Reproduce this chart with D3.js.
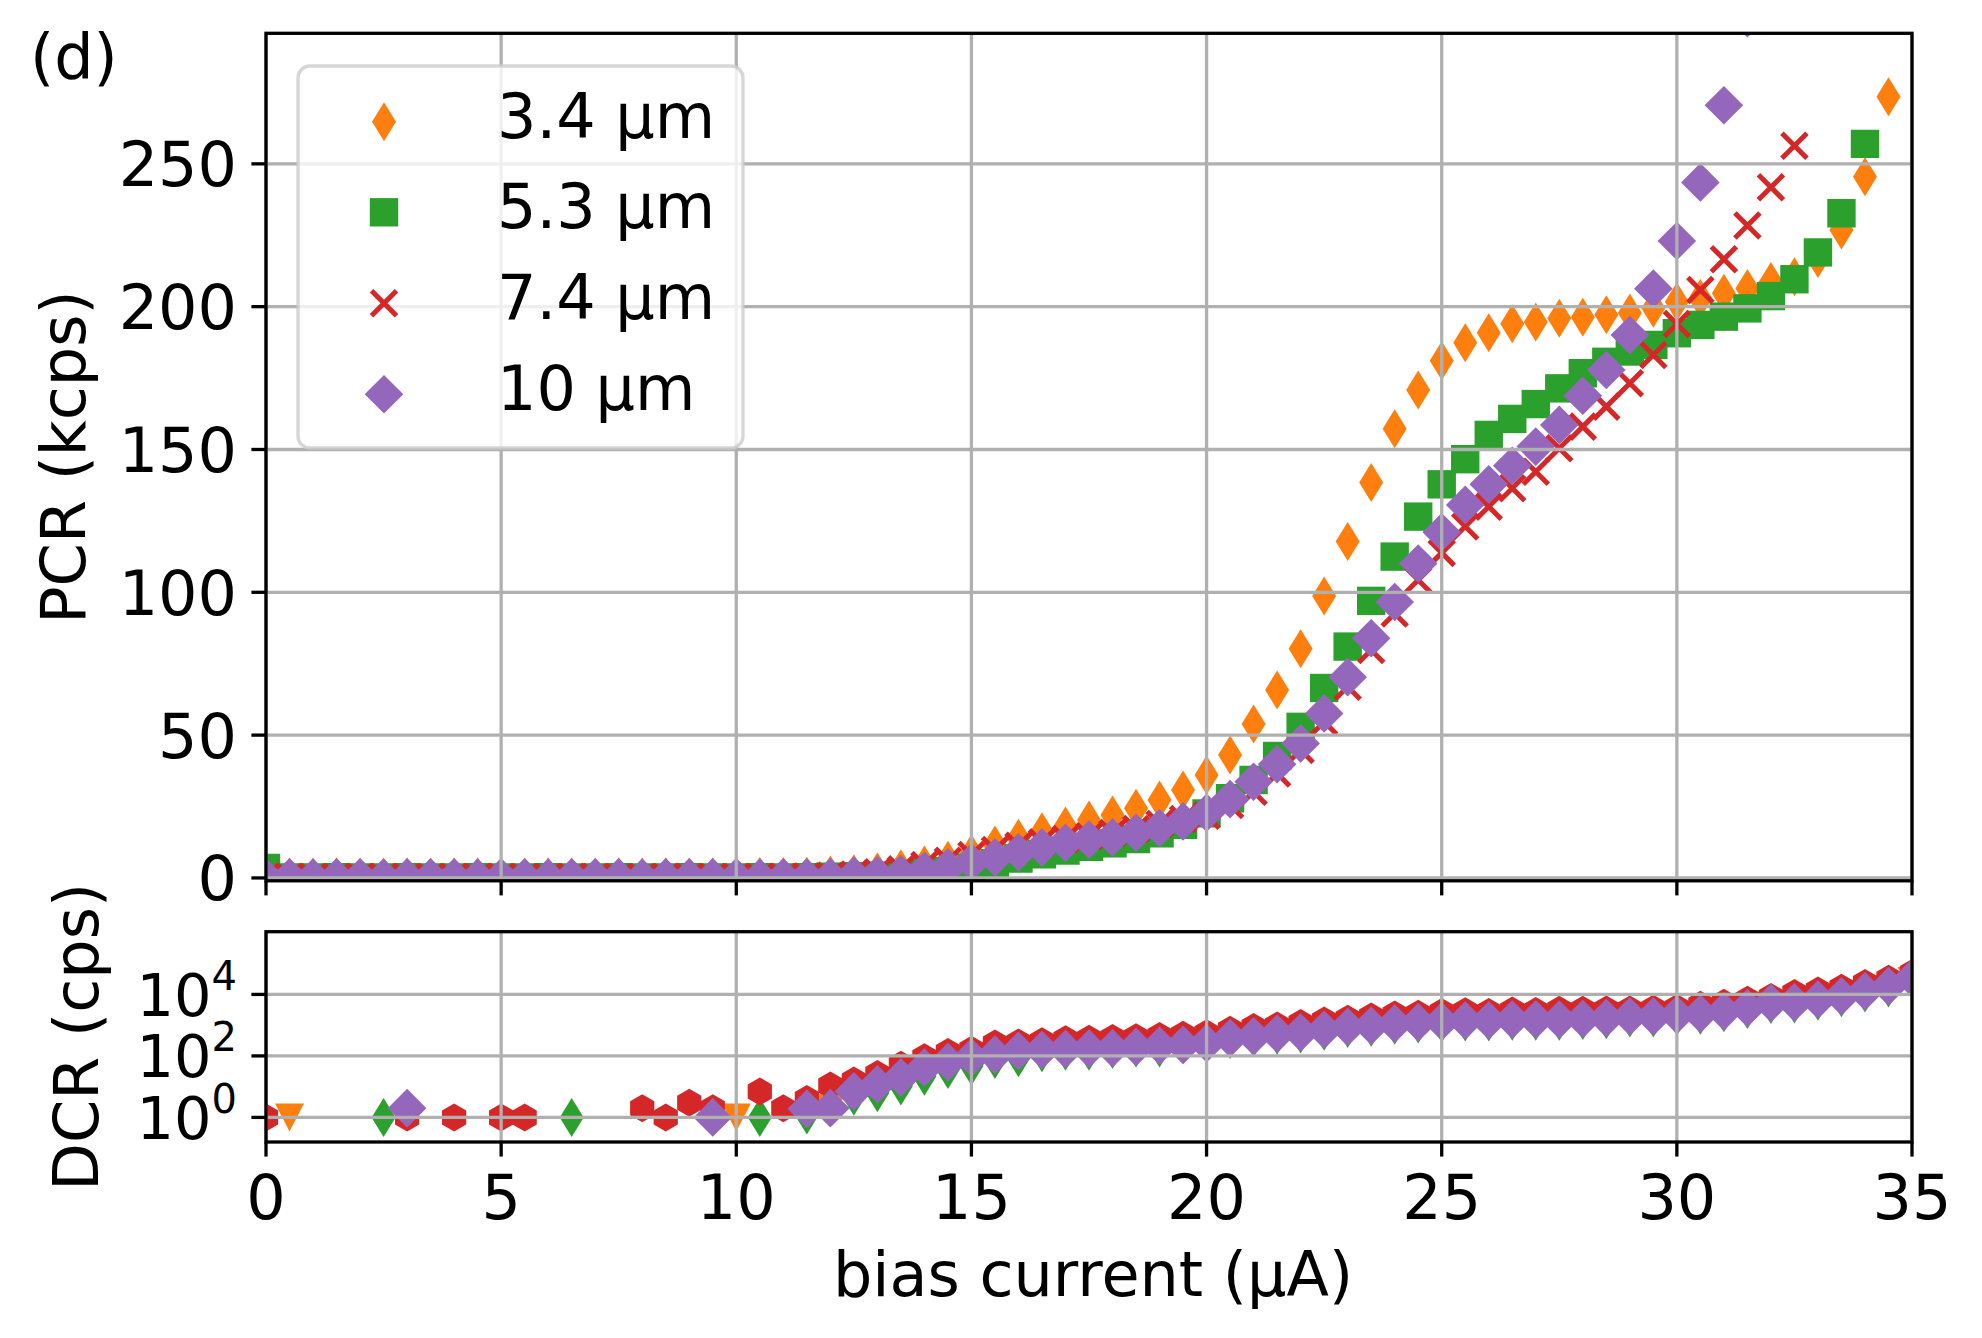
<!DOCTYPE html>
<html><head><meta charset="utf-8">
<script src="https://cdn.jsdelivr.net/npm/d3@7"></script>
<style>html,body{margin:0;padding:0;background:#fff;} svg{display:block;} text{font-family:"DejaVu Sans",sans-serif;fill:#000;}</style>
</head><body><svg id="c" width="1982" height="1338"></svg>
<script>
// ---------------- data ----------------
const BIAS = [0,0.5,1,1.5,2,2.5,3,3.5,4,4.5,
  5,5.5,6,6.5,7,7.5,8,8.5,9,9.5,
  10,10.5,11,11.5,12,12.5,13,13.5,14,14.5,
  15,15.5,16,16.5,17,17.5,18,18.5,19,19.5,
  20,20.5,21,21.5,22,22.5,23,23.5,24,24.5,
  25,25.5,26,26.5,27,27.5,28,28.5,29,29.5,
  30,30.5,31,31.5,32,32.5,33,33.5,34,34.5,
  35];

const SERIES_NAMES = ["3.4 µm","5.3 µm","7.4 µm","10 µm"];

// photon count rate (kcps)
const PCR_34 = [0.4,0.3,0.3,0.4,0.3,0.3,0.4,0.3,0.3,0.4,
  0.3,0.3,0.4,0.3,0.3,0.4,0.3,0.4,0.3,0.4,
  0.4,0.5,0.5,0.6,1.0,1.5,2.2,3.2,4.5,6.2,
  8.5,11.5,13.9,16.2,18.2,20.3,22.0,24.4,27.3,30.8,
  36.0,43.0,53.9,65.8,80.2,98.7,117.8,138.4,157.3,170.8,
  181.1,187.4,190.9,194.0,194.6,195.9,196.3,197.2,197.8,199.4,
  201.7,202.9,204.7,206.4,208.8,210.5,216.9,226.8,245.5,273.5,
  null];
const PCR_53 = [3.5,0.2,0.2,0.3,0.2,0.2,0.3,0.2,0.2,0.3,
  0.2,0.2,0.3,0.2,0.2,0.3,0.2,0.2,0.3,0.2,
  0.2,0.3,0.2,0.3,0.4,0.6,0.8,1.1,1.6,2.4,
  3.6,5.2,6.8,8.3,9.6,10.9,12.1,13.6,15.6,18.6,
  22.6,27.9,34.3,42.7,52.9,66.5,81.0,97.0,112.5,126.5,
  137.8,146.6,155.1,160.7,165.9,171.4,176.7,180.7,184.3,186.6,
  190.7,193.6,196.5,199.4,203.7,209.6,219.0,232.7,257.0,null,
  null];
const PCR_74 = [0.3,0.3,0.2,0.3,0.3,0.3,0.2,0.3,0.3,0.3,
  0.3,0.2,0.3,0.3,0.3,0.3,0.2,0.3,0.3,0.3,
  0.3,0.3,0.3,0.5,0.8,1.2,2.0,3.0,4.5,6.0,
  8.0,9.8,11.3,12.5,13.6,14.6,15.7,17.1,18.9,20.6,
  21.8,25.5,30.2,36.6,44.8,54.7,66.9,79.8,92.6,104.3,
  113.8,123.0,130.0,136.4,142.2,150.4,158.0,165.0,173.2,183.1,
  193.9,205.8,216.6,228.4,241.8,256.3,null,null,null,null,
  null];
const PCR_10 = [0.2,0.2,0.1,0.2,0.2,0.1,0.2,0.2,0.2,0.1,
  0.2,0.2,0.1,0.2,0.2,0.2,0.1,0.2,0.2,0.2,
  0.2,0.1,0.2,0.2,0.3,0.8,1.0,1.4,2.5,3.7,
  5.5,7.2,9.0,10.7,12.3,13.4,14.2,15.8,17.5,19.8,
  22.8,27.6,33.7,39.8,47.1,57.6,70.3,83.9,96.6,110.1,
  121.0,130.6,137.8,144.3,151.0,158.6,168.8,177.8,190.1,206.3,
  223.0,243.5,270.5,301.0,null,null,null,null,null,null,
  null];

// dark count rate (cps)
const DCR_34 = [null,1,null,null,null,null,null,null,null,null,
  null,null,null,null,null,null,null,null,null,null,
  1,null,null,1,2,4,6,10,20,33,
  45,70,80,115,130,130,150,170,170,215,
  260,310,360,430,470,580,710,780,920,1000,
  1080,1150,1150,1240,1240,1240,1300,1390,1560,1560,
  1800,1920,2300,2950,4300,4500,5500,7100,10300,14800,
  27500];
const DCR_53 = [null,null,null,null,null,1,null,null,null,null,
  null,null,null,1,null,null,null,null,null,null,
  null,1,null,1.2,2.2,4.9,6.3,10.5,22,36,
  47,76,87,126,141,141,162,182,182,234,
  280,339,389,468,513,631,776,851,1000,1096,
  1175,1259,1259,1349,1349,1349,1413,1514,1698,1698,
  1950,2089,2512,3236,4677,4898,6026,7762,11220,16218,
  30200];
const DCR_74 = [1,null,null,null,null,null,1,null,1,null,
  1,1,null,null,null,null,2,1,3,2,
  null,7,2,4,11,16,26,52,91,135,
  158,251,275,302,347,363,380,407,447,490,
  550,708,871,977,1175,1413,1622,1905,2239,2344,
  2692,2818,2692,3020,2884,3162,3162,3236,3236,3388,
  3631,4571,5370,6761,8318,11220,13490,16600,23440,32360,
  50120];
const DCR_10 = [null,null,null,null,null,null,2,null,null,null,
  null,null,null,null,null,null,null,null,null,1,
  null,null,null,1.9,2,7,12,20,42,63,
  89,110,145,155,166,172,178,195,214,228,
  260,380,437,525,575,708,871,955,1122,1230,
  1318,1413,1413,1514,1514,1514,1585,1698,1905,1905,
  2188,2344,2818,3631,5248,5495,6761,8710,12590,18200,
  33880];

const X_TICKS = [0,5,10,15,20,25,30,35];
const PCR_TICKS = [0,50,100,150,200,250];
const DCR_TICKS = [1,100,10000];
const DCR_TICK_EXP = ["0","2","4"];

// ---------------- styling ----------------
const COLORS = ["#ff7f0e","#2ca02c","#d62728","#9467bd"];
const M = {
  thinDiamond: {d:"M0,-19.5L12,0L0,19.5L-12,0Z", fill:true},
  square: {d:"M-14.2,-14.2h28.4v28.4h-28.4Z", fill:true},
  cross: {d:"M-12.5,-12.5L12.5,12.5M-12.5,12.5L12.5,-12.5", fill:false},
  diamond: {d:"M0,-19.3L19.3,0L0,19.3L-19.3,0Z", fill:true},
  hexagon: {d:"M0,-14L12.12,-7L12.12,7L0,14L-12.12,7L-12.12,-7Z", fill:true},
  triDown: {d:"M-14.5,-14L14.5,-14L0,14Z", fill:true}
};
const PCR_MARKERS = ["thinDiamond","square","cross","diamond"];
const DCR_MARKERS = ["triDown","thinDiamond","hexagon","diamond"];

const svg = d3.select("#c");
svg.append("rect").attr("width",1982).attr("height",1338).attr("fill","#fff");

const L = 266, R = 1912;
const T1 = 33.3, B1 = 880.8, T2 = 931.7, B2 = 1142;
const x = d3.scaleLinear().domain([0,35]).range([L,R]);
const y1 = d3.scaleLinear().domain([-1,295.7]).range([B1,T1]);
const y2 = d3.scaleLog().domain([Math.pow(10,-0.8),Math.pow(10,6.04)]).range([B2,T2]);

const GRID = "#b0b0b0", LW = 3.3, FS = 62;

const defs = svg.append("defs");
defs.append("clipPath").attr("id","clip1").append("rect").attr("x",L).attr("y",T1).attr("width",R-L).attr("height",B1-T1);
defs.append("clipPath").attr("id","clip2").append("rect").attr("x",L).attr("y",T2).attr("width",R-L).attr("height",B2-T2);

function drawMarker(g, key, color, tx, ty){
  const m = M[key];
  const p = g.append("path").attr("d", m.d).attr("transform", `translate(${tx},${ty})`);
  if (m.fill) p.attr("fill", color).attr("stroke","none");
  else p.attr("fill","none").attr("stroke", color).attr("stroke-width",5);
  return p;
}

function drawSeries(clipId, yScale, seriesList, markers){
  const g = svg.append("g").attr("clip-path", `url(#${clipId})`);
  seriesList.forEach((vals, si) => {
    const sg = g.append("g");
    BIAS.forEach((b, i) => {
      const v = vals[i];
      if (v === null || v === undefined) return;
      drawMarker(sg, markers[si], COLORS[si], x(b), yScale(v));
    });
  });
}

drawSeries("clip1", y1, [PCR_34, PCR_53, PCR_74, PCR_10], PCR_MARKERS);
drawSeries("clip2", y2, [DCR_34, DCR_53, DCR_74, DCR_10], DCR_MARKERS);

// grid (drawn above markers, as in reference)
function grid(yScale, yTicks, top, bottom){
  const g = svg.append("g").attr("stroke", GRID).attr("stroke-width", LW);
  X_TICKS.forEach(t => g.append("line").attr("x1",x(t)).attr("x2",x(t)).attr("y1",top).attr("y2",bottom));
  yTicks.forEach(t => g.append("line").attr("x1",L).attr("x2",R).attr("y1",yScale(t)).attr("y2",yScale(t)));
}
grid(y1, PCR_TICKS, T1, B1);
grid(y2, DCR_TICKS, T2, B2);

// spines
[[T1,B1],[T2,B2]].forEach(([t,b]) => {
  svg.append("rect").attr("x",L).attr("y",t).attr("width",R-L).attr("height",b-t)
    .attr("fill","none").attr("stroke","#000").attr("stroke-width",LW);
});

// ticks
const TL = 14.6;
const tk = svg.append("g").attr("stroke","#000").attr("stroke-width",LW);
X_TICKS.forEach(t => {
  tk.append("line").attr("x1",x(t)).attr("x2",x(t)).attr("y1",B1).attr("y2",B1+TL);
  tk.append("line").attr("x1",x(t)).attr("x2",x(t)).attr("y1",B2).attr("y2",B2+TL);
});
PCR_TICKS.forEach(t => tk.append("line").attr("x1",L-TL).attr("x2",L).attr("y1",y1(t)).attr("y2",y1(t)));
DCR_TICKS.forEach(t => tk.append("line").attr("x1",L-TL).attr("x2",L).attr("y1",y2(t)).attr("y2",y2(t)));

// tick labels
const lab = svg.append("g").attr("font-size",FS);
X_TICKS.forEach(t => lab.append("text").attr("x",x(t)).attr("y",1219).attr("text-anchor","middle").text(t));
PCR_TICKS.forEach(t => lab.append("text").attr("x",237).attr("y",y1(t)+22.5).attr("text-anchor","end").text(t));
DCR_TICKS.forEach((t,i) => {
  const tx = lab.append("text").attr("x",237).attr("y",y2(t)+21.5).attr("text-anchor","end");
  tx.append("tspan").attr("font-size",59).text("10");
  tx.append("tspan").attr("dy",-26).attr("font-size",40).text(DCR_TICK_EXP[i]);
});

// axis labels
svg.append("text").attr("font-size",FS).attr("text-anchor","middle").attr("x",(L+R)/2+4).attr("y",1296).text("bias current (µA)");
svg.append("text").attr("font-size",FS).attr("text-anchor","middle")
  .attr("transform",`translate(85,${(T1+B1)/2}) rotate(-90)`).text("PCR (kcps)");
svg.append("text").attr("font-size",FS).attr("text-anchor","middle")
  .attr("transform",`translate(98,${(T2+B2)/2}) rotate(-90)`).text("DCR (cps)");
svg.append("text").attr("font-size",FS).attr("x",30).attr("y",78).text("(d)");

// legend
const lg = svg.append("g");
lg.append("rect").attr("x",298).attr("y",66).attr("width",445).attr("height",382).attr("rx",12).attr("ry",12)
  .attr("fill","#fff").attr("fill-opacity",0.8).attr("stroke","#cccccc").attr("stroke-opacity",0.8).attr("stroke-width",LW);
const ROW_Y = [121.7, 212.3, 303.3, 394.3];
SERIES_NAMES.forEach((name, i) => {
  drawMarker(lg, PCR_MARKERS[i], COLORS[i], 384, ROW_Y[i]);
  lg.append("text").attr("x",497).attr("y",ROW_Y[i]+16).attr("font-size",FS).text(name);
});
</script></body></html>
